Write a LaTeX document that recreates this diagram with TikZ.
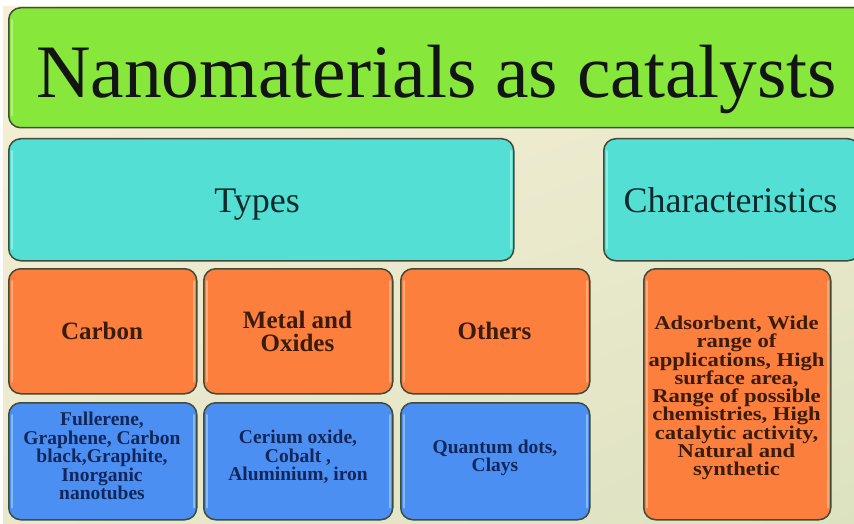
\documentclass[tikz,border=0pt]{standalone}
\usepackage{fontspec}
\setmainfont{Liberation Serif}
\newfontfamily\charfont[FakeStretch=1.16]{Liberation Serif}
\usetikzlibrary{shadings}
\definecolor{bgA}{HTML}{F6EFD6}
\definecolor{bgB}{HTML}{EEEBCF}
\definecolor{bgC}{HTML}{EAE8CC}
\definecolor{bgD}{HTML}{DCE2C0}
\definecolor{titlegreen}{HTML}{87E83B}
\definecolor{turq}{HTML}{53DFD4}
\definecolor{orng}{HTML}{FC7F3E}
\definecolor{blu}{HTML}{4C8FF2}
\definecolor{edge}{HTML}{3F4B3B}
\definecolor{hlgreen}{HTML}{B8F58A}
\definecolor{hlturq}{HTML}{9AF2EA}
\definecolor{hlorng}{HTML}{FFB584}
\definecolor{hlblu}{HTML}{93C5FF}
\definecolor{txtteal}{HTML}{0E2A2C}
\definecolor{txtbrown}{HTML}{3A1C0C}
\definecolor{txtnavy}{HTML}{13265A}
\newcommand{\boxhl}[2]{%
  \draw[#2, line width=2pt, opacity=0.8, line cap=round]
    ([xshift=4pt,yshift=-13pt]#1.north west) -- ([xshift=4pt,yshift=13pt]#1.south west);
  \draw[#2, line width=2pt, opacity=0.8, line cap=round]
    ([xshift=-4pt,yshift=-13pt]#1.north east) -- ([xshift=-4pt,yshift=13pt]#1.south east);}
\begin{document}
\begin{tikzpicture}[x=1pt,y=-1pt,
  box/.style={draw=edge, line width=1.5pt, rounded corners=12pt, anchor=north west, inner sep=0pt},
  titletext/.style={font=\fontsize{75.5}{80}\selectfont, text=black!92, anchor=base, inner sep=0pt},
  headtext/.style={font=\fontsize{36}{40}\selectfont, text=txtteal, anchor=base, inner sep=0pt},
  typetext/.style={font=\bfseries\fontsize{25}{23.5}\selectfont, text=txtbrown, align=center, inner sep=0pt},
  itemtext/.style={font=\bfseries\fontsize{19.5}{18.5}\selectfont, text=txtnavy, align=center, inner sep=0pt},
  chartext/.style={font=\charfont\bfseries\fontsize{19.5}{18.3}\selectfont, text=txtbrown, align=center, inner sep=0pt}]
\useasboundingbox (0,0) rectangle (854,524);
\clip (0,0) rectangle (854,524);
\fill[white] (0,0) rectangle (854,524);
\shade[upper left=bgA, upper right=bgB, lower left=bgC, lower right=bgD] (3,7) rectangle (854,524);

% title
\node[box, fill=titlegreen, minimum width=860pt, minimum height=120pt] (titlebox) at (8,7) {};
\boxhl{titlebox}{hlgreen}
\node[titletext] (title) at (436.5,98) {Nanomaterials as catalysts};

% headers
\node[box, fill=turq, minimum width=505pt, minimum height=122pt] (typesbox) at (8,138) {};
\node[box, fill=turq, minimum width=256pt, minimum height=122pt] (charbox) at (603,138) {};
\boxhl{typesbox}{hlturq}
\boxhl{charbox}{hlturq}
\node[headtext] (types) at (257,212) {Types};
\node[headtext] (chars) at (730.5,212) {Characteristics};

% orange row
\node[box, fill=orng, minimum width=188pt, minimum height=125pt] (carbonbox) at (8,268) {};
\node[box, fill=orng, minimum width=189pt, minimum height=125pt] (metalbox) at (203,268) {};
\node[box, fill=orng, minimum width=189pt, minimum height=125pt] (othersbox) at (400,268) {};
\node[box, fill=orng, minimum width=187pt, minimum height=251pt] (charlist) at (643,268) {};
\boxhl{carbonbox}{hlorng}
\boxhl{metalbox}{hlorng}
\boxhl{othersbox}{hlorng}
\boxhl{charlist}{hlorng}
\node[typetext] (carbon) at (102,331) {Carbon};
\node[typetext] (metal) at (297.5,331.5) {Metal and\\Oxides};
\node[typetext] (others) at (494.5,331) {Others};
\node[chartext] (chartxt) at (736.5,398) {Adsorbent, Wide\\range of\\applications, High\\surface area,\\Range of possible\\chemistries, High\\catalytic activity,\\Natural and\\synthetic};

% blue row
\node[box, fill=blu, minimum width=188pt, minimum height=117pt] (carbonlist) at (8,402) {};
\node[box, fill=blu, minimum width=189pt, minimum height=117pt] (metallist) at (203,402) {};
\node[box, fill=blu, minimum width=189pt, minimum height=117pt] (otherslist) at (400,402) {};
\boxhl{carbonlist}{hlblu}
\boxhl{metallist}{hlblu}
\boxhl{otherslist}{hlblu}
\node[itemtext] (carbonitems) at (102,456) {Fullerene,\\Graphene, Carbon\\black,Graphite,\\Inorganic\\nanotubes};
\node[itemtext] (metalitems) at (298,457) {Cerium oxide,\\Cobalt ,\\Aluminium, iron};
\node[itemtext] (othersitems) at (495,458) {Quantum dots,\\Clays};
\end{tikzpicture}
\end{document}
